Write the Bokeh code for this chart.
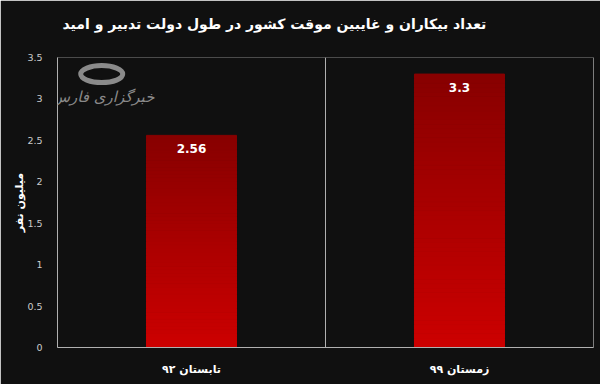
from bokeh.plotting import figure
from bokeh.models import Span, FixedTicker, Label, Title, ColumnDataSource
from bokeh.embed import file_html
from bokeh.resources import INLINE

categories = ["تابستان ۹۲", "زمستان ۹۹"]
values = [2.56, 3.3]
value_labels = ["2.56", "3.3"]
y_ticks = [0, 0.5, 1, 1.5, 2, 2.5, 3, 3.5]
y_tick_labels = ["0", "0.5", "1", "1.5", "2", "2.5", "3", "3.5"]
title_text = "تعداد بیکاران و غایبین موقت کشور در طول دولت تدبیر و امید"
y_label = "میلیون نفر"

BG = "#101010"
FONT = "DejaVu Sans"

p = figure(width=600, height=384, output_backend="svg", toolbar_location=None,
           x_range=(0, len(categories)), y_range=(0, 3.5),
           background_fill_color=BG, border_fill_color=BG,
           min_border_left=57, min_border_right=7, min_border_top=57, min_border_bottom=37)
p.outline_line_color = None
p.grid.visible = False

t = Title(text=title_text + "\n ", align="left", offset=5, vertical_align="bottom",
          text_color="white", text_font_size="14px", text_font=FONT, text_font_style="bold",
          standoff=20)
p.add_layout(t, "above")

# gradient bars built from the values
N = 60
top_rgb = (0x88, 0x00, 0x00)
bot_rgb = (0xcc, 0x00, 0x00)
xs, bottoms, tops, colors = [], [], [], []
for i, v in enumerate(values):
    for k in range(N):
        f = k / (N - 1)
        r = round(bot_rgb[0] + (top_rgb[0] - bot_rgb[0]) * f)
        xs.append(i + 0.5)
        bottoms.append(v * k / N)
        tops.append(v * (k + 1) / N)
        colors.append("#%02x%02x%02x" % (r, 0, 0))
src = ColumnDataSource(dict(x=xs, bottom=bottoms, top=tops, color=colors))
p.vbar(x="x", bottom="bottom", top="top", width=0.336, fill_color="color", line_color="color",
       line_width=1, source=src)

# value labels
lab_src = ColumnDataSource(dict(x=[i + 0.5 for i in range(len(values))], y=values, t=value_labels))
p.text(x="x", y="y", text="t", source=lab_src, text_color="white", text_font_size="12px",
       text_font_style="bold", text_align="center", text_baseline="middle", y_offset=13,
       text_font={"value": FONT})

# separators
for loc in range(1, len(categories) + 1):
    p.add_layout(Span(location=loc, dimension="height", line_color="#b0b0b0", line_width=1))

# watermark
p.ellipse(x=0.165, y=3.3, width=42 / 268, height=17 / 82.9, fill_color=None,
          line_color="#8a8a8a", line_width=5)
p.add_layout(Label(x=0.17, y=3.02, text="خبرگزاری فارس", text_color="#8a8a8a",
                   text_font_size="15px", text_font_style="italic", text_align="center",
                   text_baseline="middle", text_font=FONT))

# axes
p.xaxis.ticker = FixedTicker(ticks=[i + 0.5 for i in range(len(categories))])
p.xaxis.major_label_overrides = {i + 0.5: c for i, c in enumerate(categories)}
p.xaxis.major_tick_line_color = None
p.xaxis.minor_tick_line_color = None
p.xaxis.axis_line_color = "#b0b0b0"
p.xaxis.major_label_text_color = "white"
p.xaxis.major_label_text_font = FONT
p.xaxis.major_label_text_font_style = "bold"
p.xaxis.major_label_text_font_size = "11px"
p.xaxis.major_label_standoff = 9

p.yaxis.ticker = FixedTicker(ticks=y_ticks)
p.yaxis.major_label_overrides = {t_: l for t_, l in zip(y_ticks, y_tick_labels)}
p.yaxis.major_tick_line_color = None
p.yaxis.minor_tick_line_color = None
p.yaxis.axis_line_color = "#b0b0b0"
p.yaxis.major_label_text_color = "#cccccc"
p.yaxis.major_label_text_font = FONT
p.yaxis.major_label_text_font_size = "9.5px"
p.yaxis.major_label_standoff = 9
p.yaxis.axis_label = y_label
p.yaxis.axis_label_text_color = "white"
p.yaxis.axis_label_text_font = FONT
p.yaxis.axis_label_text_font_style = "bold"
p.yaxis.axis_label_text_font_size = "11px"
p.yaxis.axis_label_standoff = -2

open("out.html", "w").write(file_html(p, INLINE))
